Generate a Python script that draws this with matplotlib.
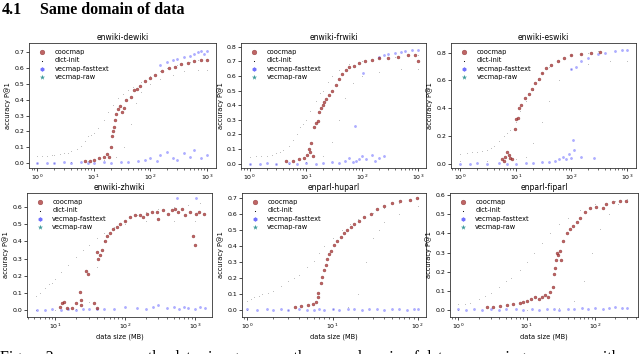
import matplotlib.pyplot as plt

# enwiki-dewiki
dewiki_cooc_x = [7, 8.5, 10, 12.6, 15.4, 17.5, 18.8, 20, 21.5, 22.4, 23, 24, 25, 27, 29, 32, 34, 37, 45, 51, 58, 66, 82, 100, 122, 160, 210, 270, 350, 470, 600, 800, 1000]
dewiki_cooc_y = [0.01, 0.015, 0.02, 0.03, 0.04, 0.055, 0.04, 0.1, 0.17, 0.2, 0.23, 0.27, 0.31, 0.34, 0.36, 0.32, 0.35, 0.4, 0.42, 0.46, 0.47, 0.49, 0.52, 0.54, 0.56, 0.58, 0.6, 0.61, 0.625, 0.635, 0.645, 0.655, 0.655]
dewiki_dict_x = [1, 1.2, 1.5, 1.8, 2, 2.5, 3, 3.5, 4, 5, 6, 7, 8, 9, 10, 12, 15, 18, 22, 27, 33, 40, 50, 70, 100, 150, 200, 300, 500, 700, 1000,
                 1, 2, 4, 8, 15, 25, 35, 45, 55, 70, 100, 150, 250, 400, 700, 1000]
dewiki_dict_y = [0.046, 0.045, 0.045, 0.05, 0.05, 0.055, 0.06, 0.065, 0.075, 0.09, 0.11, 0.14, 0.17, 0.18, 0.19, 0.22, 0.27, 0.32, 0.37, 0.41, 0.44, 0.46, 0.48, 0.51, 0.55, 0.58, 0.6, 0.62, 0.64, 0.65, 0.66,
                 0.0, 0.0, 0.005, 0.01, 0.02, 0.04, 0.1, 0.25, 0.38, 0.45, 0.5, 0.53, 0.56, 0.58, 0.59, 0.59]
dewiki_fast_x = [1, 1.5, 2, 3, 4, 6, 8, 10, 15, 20, 30, 40, 60, 80, 100, 130, 150, 200, 250, 300, 400, 500, 600, 800, 1000,
                 150, 200, 250, 300, 400, 500, 600, 700, 800, 900, 1000]
dewiki_fast_y = [0.0, 0.0, 0.0, 0.005, 0.0, 0.005, 0.0, 0.0, 0.005, 0.0, 0.005, 0.005, 0.01, 0.02, 0.03, 0.01, 0.05, 0.07, 0.03, 0.02, 0.06, 0.04, 0.08, 0.03, 0.05,
                 0.62, 0.64, 0.65, 0.66, 0.67, 0.68, 0.69, 0.7, 0.71, 0.69, 0.71]

# enwiki-frwiki
frwiki_cooc_x = [4.5, 6, 7.7, 9.5, 10.4, 11.3, 11.7, 12.5, 13.5, 14.3, 15.5, 16.6, 17.5, 19, 20, 21.5, 23, 26, 30, 34, 39, 45, 52, 59, 72, 88, 115, 150, 200, 300, 450, 670, 900, 1000]
frwiki_cooc_y = [0.015, 0.02, 0.03, 0.04, 0.06, 0.1, 0.08, 0.14, 0.05, 0.25, 0.28, 0.29, 0.35, 0.38, 0.4, 0.42, 0.44, 0.47, 0.5, 0.54, 0.58, 0.61, 0.64, 0.66, 0.67, 0.69, 0.7, 0.71, 0.72, 0.725, 0.73, 0.74, 0.74, 0.7]
frwiki_dict_x = [1, 1.3, 1.6, 2, 2.5, 3, 3.5, 4, 5, 6, 7, 8, 9, 10, 12, 15, 18, 20, 25, 30, 40, 60, 100, 200, 400, 1000,
                 1, 3, 5, 10, 20, 30, 40, 50, 70, 100, 200, 500, 1000]
frwiki_dict_y = [0.045, 0.05, 0.05, 0.055, 0.06, 0.07, 0.08, 0.09, 0.12, 0.16, 0.2, 0.25, 0.27, 0.3, 0.36, 0.43, 0.48, 0.5, 0.56, 0.6, 0.64, 0.68, 0.7, 0.72, 0.73, 0.74,
                 0.0, 0.0, 0.0, 0.01, 0.05, 0.15, 0.3, 0.45, 0.55, 0.6, 0.63, 0.65, 0.65]
frwiki_fast_x = [1, 1.5, 2, 3, 5, 7, 10, 15, 20, 30, 40, 50, 60, 70, 80, 90, 100, 120, 150, 170, 200, 250,
                 75, 105, 200, 250, 300, 400, 500, 600, 800, 1000]
frwiki_fast_y = [0.0, 0.0, 0.005, 0.0, 0.005, 0.0, 0.005, 0.0, 0.005, 0.01, 0.005, 0.02, 0.04, 0.01, 0.02, 0.03, 0.05, 0.03, 0.06, 0.02, 0.04, 0.05,
                 0.26, 0.62, 0.73, 0.74, 0.75, 0.76, 0.765, 0.77, 0.78, 0.78]

# enwiki-eswiki
eswiki_cooc_x = [5.6, 6.1, 6.4, 7, 7.4, 7.9, 8.5, 9.5, 10, 10.8, 11.6, 12.6, 14.7, 17, 19.5, 22, 26, 29, 35, 43, 57, 75, 100, 150, 225, 330]
eswiki_cooc_y = [0.03, 0.015, 0.05, 0.08, 0.065, 0.04, 0.03, 0.25, 0.32, 0.33, 0.4, 0.42, 0.47, 0.5, 0.54, 0.58, 0.61, 0.65, 0.69, 0.71, 0.74, 0.76, 0.78, 0.79, 0.8, 0.805]
eswiki_dict_x = [1, 1.3, 1.6, 2, 2.5, 3, 3.5, 4, 5, 6, 7, 8, 10, 12, 15, 20, 25, 30, 40, 60, 100, 150, 200, 300,
                 1, 3, 10, 15, 20, 30, 40, 60, 100, 200, 500, 1000]
eswiki_dict_y = [0.07, 0.075, 0.08, 0.08, 0.09, 0.1, 0.11, 0.13, 0.16, 0.2, 0.22, 0.24, 0.3, 0.38, 0.45, 0.53, 0.6, 0.65, 0.7, 0.74, 0.78, 0.79, 0.8, 0.81,
                 0.02, 0.02, 0.03, 0.05, 0.15, 0.3, 0.45, 0.6, 0.68, 0.72, 0.74, 0.74]
eswiki_fast_x = [1, 1.5, 2, 3, 5, 7, 10, 15, 20, 30, 40, 50, 60, 70, 80, 90, 100, 105, 110, 150, 250,
                 100, 120, 150, 200, 300, 400, 600, 800, 1000]
eswiki_fast_y = [0.0, 0.0, 0.005, 0.0, 0.005, 0.0, 0.0, 0.005, 0.005, 0.01, 0.01, 0.02, 0.03, 0.05, 0.03, 0.07, 0.04, 0.17, 0.1, 0.05, 0.04,
                 0.68, 0.7, 0.74, 0.76, 0.79, 0.8, 0.81, 0.82, 0.82]

# enwiki-zhwiki
zhwiki_cooc_x = [11.8, 12.5, 13.1, 14.7, 17.3, 20, 22.3, 23, 23.6, 27.7, 29, 35.3, 39, 39, 41.5, 44, 46.5, 51.8, 54.7, 61, 68, 76, 85, 100, 118, 139, 164, 183, 204, 240,
                 285, 300, 355, 415, 465, 520, 580, 650, 720, 850, 940, 1000, 1050, 1170, 1380]
zhwiki_cooc_y = [0.02, 0.04, 0.05, 0.015, 0.015, 0.04, 0.105, 0.06, 0.03, 0.23, 0.21, 0.04, 0.015, 0.34, 0.3, 0.32, 0.35, 0.4, 0.43, 0.45, 0.47, 0.48, 0.5, 0.52, 0.54, 0.55, 0.55, 0.54, 0.56, 0.57,
                 0.57, 0.53, 0.58, 0.56, 0.58, 0.59, 0.57, 0.59, 0.55, 0.57, 0.43, 0.38, 0.56, 0.57, 0.56]
zhwiki_dict_x = [5.3, 6, 7, 8, 9, 10, 12, 15, 20, 25, 30, 40, 50, 70, 100, 150, 200, 300, 500, 800, 1200,
                 5.3, 10, 20, 30, 40, 50, 70, 100, 200, 500, 1000]
zhwiki_dict_y = [0.08, 0.1, 0.13, 0.15, 0.16, 0.18, 0.22, 0.26, 0.31, 0.35, 0.38, 0.42, 0.45, 0.48, 0.52, 0.55, 0.57, 0.59, 0.6, 0.61, 0.62,
                 0.0, 0.0, 0.01, 0.05, 0.25, 0.4, 0.47, 0.5, 0.52, 0.52, 0.52]
zhwiki_fast_x = [5.5, 7, 9, 12, 15, 20, 25, 30, 40, 50, 70, 100, 150, 200, 250, 300, 400, 500, 600, 700, 800, 1000, 1200, 1400, 550, 1050]
zhwiki_fast_y = [0.0, 0.0, 0.005, 0.0, 0.005, 0.0, 0.01, 0.005, 0.01, 0.005, 0.01, 0.02, 0.015, 0.01, 0.02, 0.03, 0.015, 0.02, 0.01, 0.02, 0.015, 0.01, 0.02, 0.015, 0.65, 0.65]

# enparl-huparl
huparl_cooc_x = [3.6, 4.3, 5.1, 5.9, 6.4, 6.7, 6.8, 7.3, 7.6, 8, 8.4, 8.7, 9.1, 9.6, 10.5, 11.4, 12.4, 13.7, 14.9, 16.3, 17.9, 20.4, 23.4, 27.9, 33.4, 40, 50, 62, 81, 97]
huparl_cooc_y = [0.02, 0.025, 0.03, 0.04, 0.05, 0.08, 0.11, 0.17, 0.21, 0.25, 0.28, 0.32, 0.35, 0.37, 0.41, 0.43, 0.46, 0.48, 0.5, 0.52, 0.54, 0.56, 0.58, 0.6, 0.63, 0.65, 0.67, 0.68, 0.69, 0.7]
huparl_dict_x = [1, 1.1, 1.2, 1.35, 1.5, 1.75, 2, 2.5, 3, 3.5, 4, 5, 6, 7, 8, 10, 13, 16, 20, 30, 40, 60, 100,
                 1, 3, 10, 15, 20, 25, 30, 35, 40, 60, 100]
huparl_dict_y = [0.06, 0.07, 0.08, 0.09, 0.1, 0.11, 0.12, 0.15, 0.18, 0.2, 0.22, 0.27, 0.31, 0.36, 0.4, 0.45, 0.5, 0.54, 0.57, 0.61, 0.64, 0.67, 0.7,
                 0.0, 0.0, 0.005, 0.02, 0.1, 0.3, 0.45, 0.5, 0.55, 0.6, 0.65]
huparl_fast_x = [1, 1.3, 1.7, 2, 2.5, 3, 4, 5, 6, 7, 8, 10, 12, 15, 18, 22, 27, 33, 40, 50, 60, 75, 90, 100]
huparl_fast_y = [0.005, 0.0, 0.005, 0.0, 0.005, 0.0, 0.005, 0.0, 0.0, 0.005, 0.0, 0.005, 0.0, 0.005, 0.005, 0.0, 0.005, 0.005, 0.0, 0.005, 0.005, 0.0, 0.005, 0.01]

# enparl-fiparl
fiparl_cooc_x = [2.6, 3.25, 4.1, 5.1, 6.4, 8, 9, 10, 11.8, 13.3, 15, 16.6, 18.5, 20.6, 22.4, 24, 25.4, 26, 26.6, 27.5, 29, 30.8, 32, 34.3, 38.5, 43, 48, 54, 60, 71,
                 84, 105, 132, 148, 186, 232, 290]
fiparl_cooc_y = [0.015, 0.018, 0.02, 0.025, 0.03, 0.04, 0.045, 0.05, 0.06, 0.07, 0.06, 0.07, 0.08, 0.07, 0.095, 0.12, 0.19, 0.22, 0.26, 0.3, 0.285, 0.31, 0.26, 0.36, 0.4, 0.42, 0.44, 0.46, 0.48, 0.51,
                 0.53, 0.535, 0.53, 0.55, 0.56, 0.57, 0.57]
fiparl_dict_x = [1, 1.25, 1.5, 2, 2.5, 3, 4, 5, 6, 8, 10, 13, 17, 22, 30, 40, 60, 100, 200, 300,
                 1, 10, 30, 50, 70, 90, 120, 160, 220, 300]
fiparl_dict_y = [0.03, 0.035, 0.04, 0.06, 0.075, 0.09, 0.12, 0.15, 0.17, 0.21, 0.25, 0.3, 0.35, 0.4, 0.45, 0.48, 0.52, 0.55, 0.57, 0.58,
                 0.0, 0.0, 0.01, 0.05, 0.15, 0.3, 0.42, 0.5, 0.55, 0.56]
fiparl_fast_x = [1, 1.3, 1.7, 2.2, 3, 4, 5, 7, 9, 12, 15, 20, 25, 30, 40, 50, 65, 80, 100, 130, 160, 200, 250, 300]
fiparl_fast_y = [0.005, 0.0, 0.005, 0.0, 0.005, 0.0, 0.005, 0.005, 0.0, 0.005, 0.0, 0.005, 0.005, 0.0, 0.005, 0.005, 0.01, 0.005, 0.01, 0.005, 0.01, 0.015, 0.01, 0.01]

titles = ['enwiki-dewiki', 'enwiki-frwiki', 'enwiki-eswiki', 'enwiki-zhwiki', 'enparl-huparl', 'enparl-fiparl']

plt.rcParams['font.family'] = 'DejaVu Sans'
fig = plt.figure(figsize=(6.4, 3.54), dpi=100)

serif = 'Liberation Serif'
fig.text(0.003, 0.994, '4.1', family=serif, weight='bold', fontsize=11.5, va='top')
fig.text(0.0625, 0.994, 'Same domain of data', family=serif, weight='bold', fontsize=11.5, va='top')
# caption of the figure, cut by the bottom edge as in the page screenshot
fig.text(0.0, -0.024, 'Figure 2:   accuracy as the data size grows on the same domain of data, comparing coocmap with vecmap and dict-init',
         family=serif, fontsize=11.5, va='baseline')


def draw_panel(ax, title, cx, cy, dx, dy, fx, fy, xlim, ylim, yticks, xlabel):
    ax.scatter(cx, cy, s=4.5, c='#a83232', alpha=0.75, marker='o', linewidths=0.3, edgecolors='#7a1f1f', label='coocmap', zorder=3)
    ax.scatter(dx, dy, s=1, c='k', alpha=0.35, marker='.', linewidths=0, label='dict-init', zorder=2)
    ax.scatter(fx, fy, s=3, c='#3535ff', alpha=0.4, marker='h', linewidths=0.3, label='vecmap-fasttext', zorder=2)
    ax.scatter([], [], s=6, c='#3f9a9a', marker='*', linewidths=0, label='vecmap-raw')
    ax.set_xscale('log')
    ax.set_xlim(xlim)
    ax.set_ylim(ylim)
    ax.set_yticks(yticks)
    ax.set_title(title, fontsize=5.5, pad=2.5)
    ax.set_ylabel('accuracy P@1', fontsize=4.8, labelpad=2)
    if xlabel:
        ax.set_xlabel('data size (MB)', fontsize=4.8, labelpad=2)
    ax.tick_params(which='major', labelsize=4.5, length=2, width=0.5, pad=1.5)
    ax.tick_params(which='minor', length=1.2, width=0.4)
    for sp in ax.spines.values():
        sp.set_linewidth(0.6)
        sp.set_color('#333333')
    leg = ax.legend(loc='upper left', frameon=False, fontsize=4.8, markerscale=1.6,
                    labelspacing=0.35, handletextpad=0.9, borderaxespad=0.6, borderpad=0.3)
    leg.legend_handles[1].set_alpha(1)
    leg.legend_handles[2].set_alpha(0.7)


ax1 = fig.add_axes([0.0453, 0.5254, 0.2922, 0.3531])
draw_panel(ax1, titles[0], dewiki_cooc_x, dewiki_cooc_y, dewiki_dict_x, dewiki_dict_y, dewiki_fast_x, dewiki_fast_y,
           (0.72, 1450), (-0.032, 0.76), [0, 0.1, 0.2, 0.3, 0.4, 0.5, 0.6, 0.7], False)
ax2 = fig.add_axes([0.3766, 0.5254, 0.289, 0.3531])
draw_panel(ax2, titles[1], frwiki_cooc_x, frwiki_cooc_y, frwiki_dict_x, frwiki_dict_y, frwiki_fast_x, frwiki_fast_y,
           (0.70, 1400), (-0.03, 0.825), [0, 0.1, 0.2, 0.3, 0.4, 0.5, 0.6, 0.7, 0.8], False)
ax3 = fig.add_axes([0.7047, 0.5254, 0.289, 0.3531])
draw_panel(ax3, titles[2], eswiki_cooc_x, eswiki_cooc_y, eswiki_dict_x, eswiki_dict_y, eswiki_fast_x, eswiki_fast_y,
           (0.68, 1450), (-0.032, 0.87), [0, 0.2, 0.4, 0.6, 0.8], False)
ax4 = fig.add_axes([0.042, 0.1045, 0.29, 0.3503])
draw_panel(ax4, titles[3], zhwiki_cooc_x, zhwiki_cooc_y, zhwiki_dict_x, zhwiki_dict_y, zhwiki_fast_x, zhwiki_fast_y,
           (3.9, 1800), (-0.039, 0.68), [0, 0.1, 0.2, 0.3, 0.4, 0.5, 0.6], True)
ax5 = fig.add_axes([0.378, 0.1045, 0.2875, 0.3503])
draw_panel(ax5, titles[4], huparl_cooc_x, huparl_cooc_y, huparl_dict_x, huparl_dict_y, huparl_fast_x, huparl_fast_y,
           (0.86, 125), (-0.042, 0.733), [0, 0.1, 0.2, 0.3, 0.4, 0.5, 0.6, 0.7], True)
ax6 = fig.add_axes([0.703, 0.1045, 0.294, 0.3503])
draw_panel(ax6, titles[5], fiparl_cooc_x, fiparl_cooc_y, fiparl_dict_x, fiparl_dict_y, fiparl_fast_x, fiparl_fast_y,
           (0.755, 430), (-0.035, 0.609), [0, 0.1, 0.2, 0.3, 0.4, 0.5, 0.6], True)

fig.savefig('out.png', dpi=100)
